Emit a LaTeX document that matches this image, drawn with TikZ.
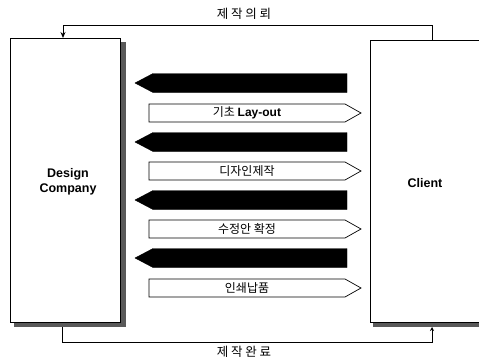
\documentclass[tikz,border=0pt]{standalone}
\usepackage{fontspec}
\setmainfont{Liberation Sans}
\newfontfamily\kr{Noto Sans CJK KR}
\usetikzlibrary{arrows.meta}
\begin{document}
\begin{tikzpicture}[x=1pt,y=-1pt,
  shadowfill/.style={fill=black!65},
  bigbox/.style={draw=black,line width=0.9pt,fill=white},
  leftarr/.style={fill=black,draw=black},
  rightarr/.style={fill=white,draw=black,line width=0.7pt},
  lbl/.style={font=\kr\fontsize{12.5}{14}\selectfont,inner sep=0pt},
  arrtxt/.style={font=\kr\fontsize{12}{14}\selectfont,inner sep=0pt},
  conn/.style={line width=0.9pt}
]
\useasboundingbox (0,0) rectangle (479,361);
% left box
\fill[shadowfill] (120,42) rectangle (126,327);
\fill[shadowfill] (14,322) rectangle (126,327);
\draw[bigbox] (10,38) rectangle (120,322);
\node[font=\bfseries\fontsize{12.5}{15}\selectfont,align=center] (dc) at (68,182) {Design\\Company};
\coordinate (ltop) at (63,38);
\coordinate (lbot) at (62,327);
% right box
\fill[shadowfill] (373,322) rectangle (479,327);
\draw[bigbox] (479,40) -- (370,40) -- (370,322) -- (479,322);
\node[font=\bfseries\fontsize{12.5}{15}\selectfont] (cl) at (425,183) {Client};
\coordinate (rtop) at (432,40);
\coordinate (rbot) at (432,327);
% connectors
\draw[conn,-{Stealth[length=6pt,width=5pt]}] (rtop) -- (432,25) -- (63,25) -- (ltop);
\draw[conn,-{Stealth[length=4pt,width=4pt]}] (lbot) -- (62,342) -- (432,342) -- (rbot);
\node[lbl] (t1) at (244,14) {제 작 의 뢰};
\node[lbl] (t2) at (244,352) {제 작 완 료};
% arrows
\foreach \y [count=\i] in {83,142,200,258} {
  \fill[leftarr] (347,\y-9.5) -- (153,\y-9.5) -- (135,\y) -- (153,\y+9.5) -- (347,\y+9.5) -- cycle;
}
\foreach \y/\t in {113/{기초 {\normalfont\bfseries Lay-out}},171/{디자인제작},229/{수정안 확정},288/{인쇄납품}} {
  \draw[rightarr] (149,\y-9) -- (345,\y-9) -- (361,\y) -- (345,\y+9) -- (149,\y+9) -- cycle;
  \node[arrtxt] at (247,\y) {\t};
}
\end{tikzpicture}
\end{document}
